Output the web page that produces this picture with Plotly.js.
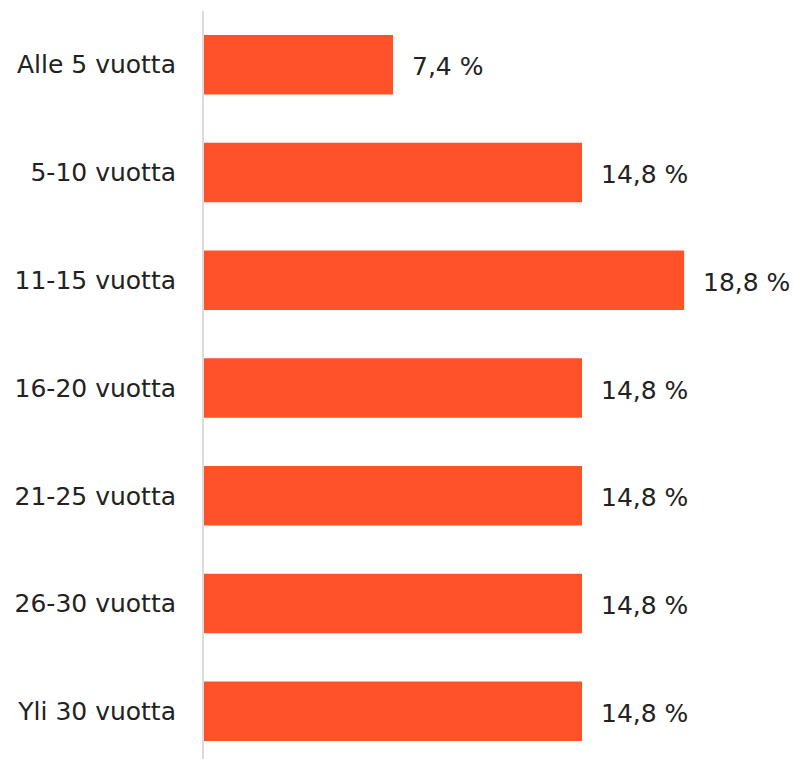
<!DOCTYPE html>
<html><head><meta charset="utf-8">
<script src="https://cdn.plot.ly/plotly-3.0.1.min.js"></script>
<style>html,body{margin:0;padding:0;background:#fff}#chart{width:794px;height:759px}</style>
</head><body><div id="chart"></div>
<script>
const categories = ["Alle 5 vuotta","5-10 vuotta","11-15 vuotta","16-20 vuotta","21-25 vuotta","26-30 vuotta","Yli 30 vuotta"];
const values = [7.4, 14.8, 18.8, 14.8, 14.8, 14.8, 14.8];
const valueLabels = ["7,4 %","14,8 %","18,8 %","14,8 %","14,8 %","14,8 %","14,8 %"];

const FONT = "'DejaVu Sans', sans-serif";
const trace = {
  type: "bar", orientation: "h",
  x: values, y: categories,
  marker: {color: "#FF5229"},
  width: 0.552,
  hoverinfo: "none"
};
const annotations = values.map((v, i) => ({
  x: v, y: categories[i], xref: "x", yref: "y",
  text: valueLabels[i], showarrow: false,
  xanchor: "left", xshift: 17, yshift: -2,
  font: {family: FONT, size: 25, color: "#222"}
}));
const layout = {
  width: 794, height: 759,
  margin: {l: 204, r: 0, t: 11, b: 0},
  paper_bgcolor: "#fff", plot_bgcolor: "#fff",
  showlegend: false,
  xaxis: {range: [0, 23.1], visible: false, showgrid: false, zeroline: false},
  yaxis: {
    type: "category", range: [6.442, -0.498],
    showline: true, linecolor: "#dcdcdc", linewidth: 2,
    showgrid: false, zeroline: false, ticks: "",
    ticklabelstandoff: 21,
    tickfont: {family: FONT, size: 25, color: "#222"}
  },
  annotations: annotations,
  font: {family: FONT}
};
Plotly.newPlot("chart", [trace], layout, {staticPlot: true, displayModeBar: false});
</script></body></html>
